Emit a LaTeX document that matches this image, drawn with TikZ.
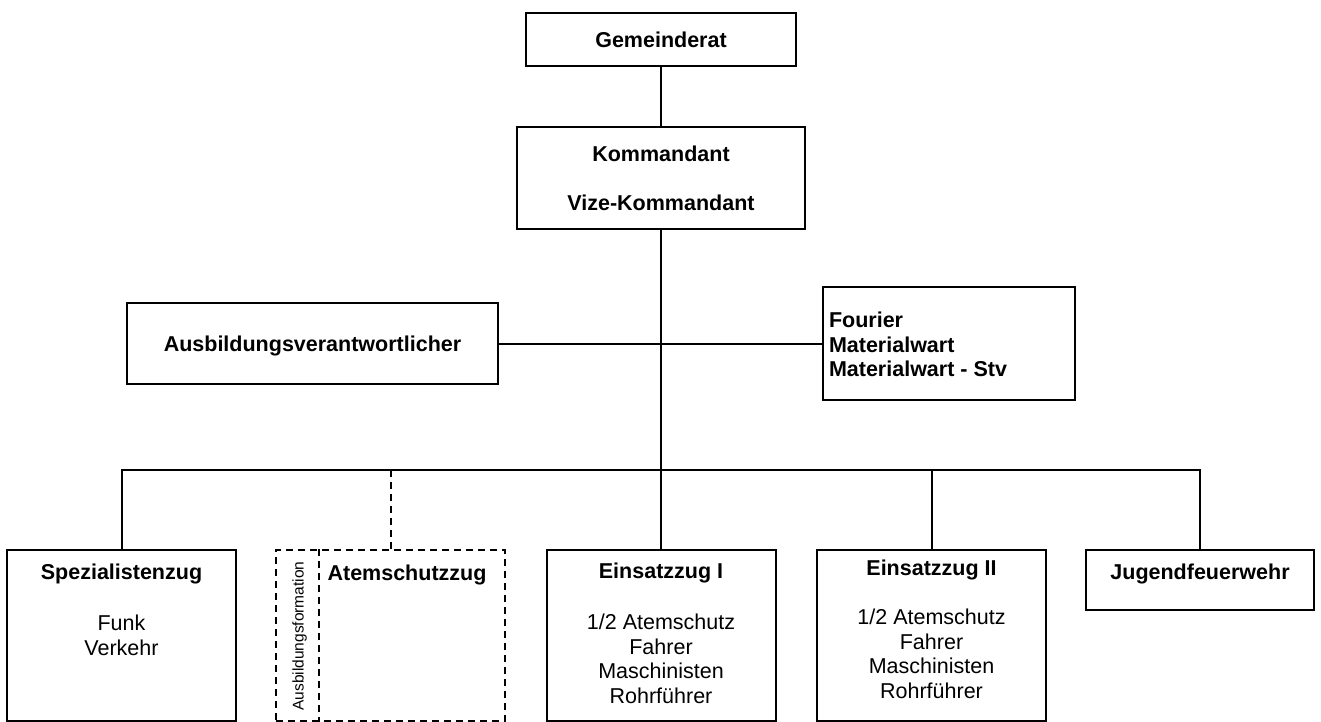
\documentclass[tikz,border=0pt]{standalone}
\usepackage{fontspec}
\setmainfont{Liberation Sans}

\begin{document}
\begin{tikzpicture}[x=1pt,y=-1pt,line width=2pt,
	box/.style={draw,inner sep=0pt},
	dashbox/.style={draw,dash pattern=on 7pt off 5pt,inner sep=0pt},
	head/.style={font=\fontsize{21.5}{25}\selectfont\bfseries,text height=15pt,text depth=0pt,inner sep=0pt},
	sub/.style={font=\fontsize{21.5}{25}\selectfont,text height=15pt,text depth=0pt,inner sep=0pt}]
	\useasboundingbox (0,0) rectangle (1321,722);
	%
	\node[box,minimum width=270,minimum height=53] (gemeinderat) at (661,39.5) {};
	\node[head] (gemeinderat-t) at (661,40) {Gemeinderat};
	%
	\node[box,minimum width=288,minimum height=102] (kommandant) at (661,178) {};
	\node[head] (kommandant-t) at (661,154) {Kommandant};
	\node[head] (vize-t) at (661,203) {Vize-Kommandant};
		\draw (gemeinderat) -- (kommandant);
	%
	\node[box,minimum width=371,minimum height=81] (ausbildung) at (312.5,343.5) {};
	\node[head] (ausbildung-t) at (312.5,344) {Ausbildungsverantwortlicher};
	%
	\node[box,minimum width=252,minimum height=113] (fourier) at (949,343.5) {};
	\node[head,anchor=west] (fourier-t1) at (828,320) {Fourier};
	\node[head,anchor=west] (fourier-t2) at (828,344.5) {Materialwart};
	\node[head,anchor=west] (fourier-t3) at (828,369) {Materialwart - Stv};
		\draw (ausbildung) -- (fourier);
	%
	\node[box,minimum width=229,minimum height=171] (spezial) at (121.5,635.5) {};
	\node[head] (spezial-t) at (121.5,572) {Spezialistenzug};
	\node[sub] (funk-t) at (121.5,623) {Funk};
	\node[sub] (verkehr-t) at (121.5,647.5) {Verkehr};
	%
	\node[dashbox,minimum width=229,minimum height=171] (atem) at (390.5,635.5) {};
	\node[head] (atem-t) at (407,573) {Atemschutzzug};
	\node[rotate=90,inner sep=0pt,font=\fontsize{15.5}{18}\selectfont] (formation-t) at (299.5,636) {Ausbildungsformation};
		\draw[dash pattern=on 7pt off 5pt] ([xshift=44pt]atem.north west) -- ([xshift=44pt]atem.south west);
	%
	\node[box,minimum width=229,minimum height=171] (einsatz1) at (661,635.5) {};
	\node[head] (einsatz1-t) at (661,571) {Einsatzzug I};
	\foreach \t [count=\i] in {1/2 Atemschutz,Fahrer,Maschinisten,Rohrführer}
		\node[sub] (einsatz1-\i) at (661,{622+24.5*(\i-1)}) {\t};
	%
	\node[box,minimum width=229,minimum height=171] (einsatz2) at (931.5,635.5) {};
	\node[head] (einsatz2-t) at (931.5,568) {Einsatzzug II};
	\foreach \t [count=\i] in {1/2 Atemschutz,Fahrer,Maschinisten,Rohrführer}
		\node[sub] (einsatz2-\i) at (931.5,{617+24.5*(\i-1)}) {\t};
	%
	\node[box,minimum width=228,minimum height=60] (jugend) at (1200,580) {};
	\node[head] (jugend-t) at (1200,572) {Jugendfeuerwehr};
	%
	\coordinate (bus) at (661,470);
		\draw (kommandant) -- (einsatz1);
		\draw (spezial.north) |- (bus) -| (jugend.north);
		\draw (einsatz2.north) -- (einsatz2.north |- bus);
		\draw[dash pattern=on 7pt off 5pt] (atem.north) -- (atem.north |- bus);
\end{tikzpicture}
\end{document}
